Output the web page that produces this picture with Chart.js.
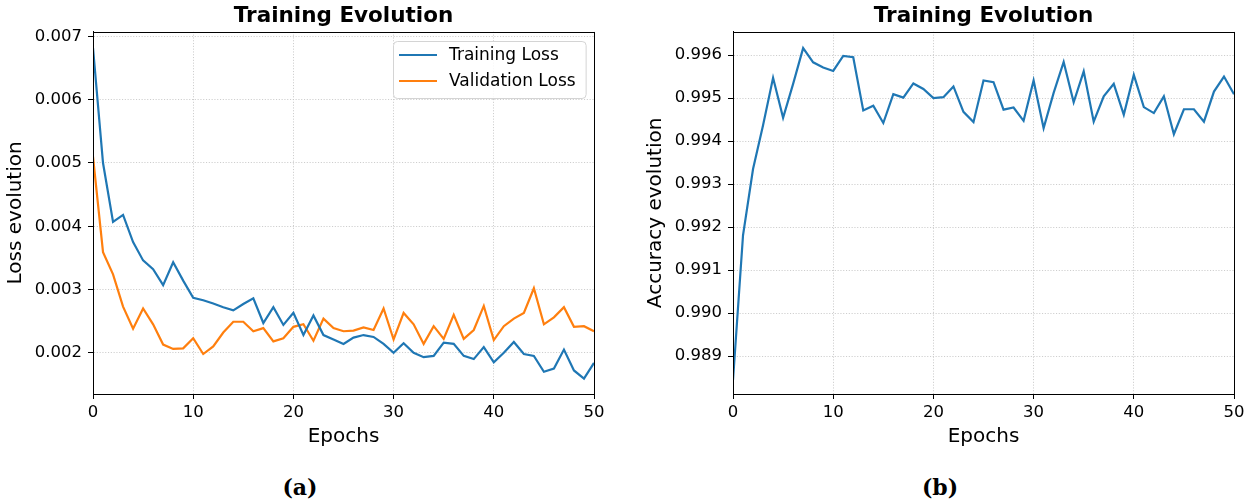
<!DOCTYPE html>
<html>
<head>
<meta charset="utf-8">
<script src="https://cdn.jsdelivr.net/npm/chart.js@4.4.1/dist/chart.umd.min.js"></script>
<style>
    html, body { margin: 0; padding: 0; background: #fff; }
    #wrap { position: relative; width: 1257px; height: 500px; overflow: hidden; }
    canvas { position: absolute; top: 0; }
    #lossChart { left: 0; }
    #accChart { left: 620px; }
    .caption {
        position: absolute; top: 474px; width: 80px; margin-left: -40px;
        text-align: center; line-height: 26px;
        font: bold 22px 'DejaVu Serif', serif; color: #000;
    }
</style>
</head>
<body>
<div id="wrap">
    <canvas id="lossChart" width="620" height="460"></canvas>
    <canvas id="accChart" width="637" height="460"></canvas>
    <div class="caption" style="left:300px">(a)</div>
    <div class="caption" style="left:940px">(b)</div>
</div>
<script>
const epochs = [0, 1, 2, 3, 4, 5, 6, 7, 8, 9, 10, 11, 12, 13, 14, 15, 16, 17, 18, 19, 20,
    21, 22, 23, 24, 25, 26, 27, 28, 29, 30, 31, 32, 33, 34, 35, 36, 37, 38, 39, 40,
    41, 42, 43, 44, 45, 46, 47, 48, 49, 50];

const trainLoss = [0.00682, 0.00500, 0.00407, 0.00418, 0.00375, 0.00346, 0.00332, 0.00307, 0.00343, 0.00314,
    0.00287, 0.00283, 0.00278, 0.00272, 0.00267, 0.00277, 0.00286, 0.00247, 0.00272, 0.00244,
    0.00263, 0.00228, 0.00259, 0.00228, 0.00221, 0.00214, 0.00224, 0.00228, 0.00225, 0.00214,
    0.00200, 0.00215, 0.00200, 0.00193, 0.00195, 0.00216, 0.00214, 0.00195, 0.00190, 0.00209,
    0.00185, 0.00200, 0.00217, 0.00198, 0.00195, 0.00170, 0.00175, 0.00205, 0.00172, 0.00159,
    0.00184];

const valLoss = [0.00510, 0.00359, 0.00324, 0.00273, 0.00238, 0.00270, 0.00245, 0.00213, 0.00206, 0.00207,
    0.00223, 0.00198, 0.00210, 0.00232, 0.00249, 0.00249, 0.00234, 0.00239, 0.00218, 0.00223,
    0.00241, 0.00245, 0.00219, 0.00254, 0.00239, 0.00234, 0.00235, 0.00240, 0.00236, 0.00270,
    0.00221, 0.00263, 0.00245, 0.00214, 0.00242, 0.00222, 0.00260, 0.00222, 0.00236, 0.00274,
    0.00220, 0.00242, 0.00254, 0.00263, 0.00302, 0.00245, 0.00256, 0.00272, 0.00241, 0.00242,
    0.00234];

const accuracy = [0.98844, 0.99181, 0.99335, 0.99437, 0.99547, 0.99454, 0.99533, 0.99616, 0.99583, 0.99571,
    0.99563, 0.99598, 0.99595, 0.99471, 0.99482, 0.99442, 0.99509, 0.99501, 0.99534, 0.99521,
    0.99500, 0.99502, 0.99527, 0.99468, 0.99444, 0.99541, 0.99537, 0.99473, 0.99478, 0.99447,
    0.99541, 0.99430, 0.99512, 0.99584, 0.99490, 0.99562, 0.99445, 0.99504, 0.99533, 0.99461,
    0.99554, 0.99479, 0.99465, 0.99504, 0.99416, 0.99474, 0.99474, 0.99445, 0.99515, 0.99550,
    0.99509];

const epochTicks = [0, 10, 20, 30, 40, 50];
const lossTicks = [0.002, 0.003, 0.004, 0.005, 0.006, 0.007];
const accTicks = [0.989, 0.990, 0.991, 0.992, 0.993, 0.994, 0.995, 0.996];

const FONT = "'DejaVu Sans', sans-serif";
const BLUE = '#1f77b4';
const ORANGE = '#ff7f0e';

const toPoints = (ys) => ys.map((y, i) => ({ x: epochs[i], y }));

// matplotlib-like box around the plot + legend inside the axes (upper right)
const axesBox = {
    id: 'axesBox',
    afterDraw(chart, args, opts) {
        const { ctx, chartArea: a } = chart;
        ctx.save();
        ctx.strokeStyle = '#000';
        ctx.lineWidth = 1;
        ctx.strokeRect(Math.round(a.left) + 0.5, Math.round(a.top) + 0.5,
            Math.round(a.right - a.left), Math.round(a.bottom - a.top));

        if (opts.legend) {
            const sets = chart.data.datasets;
            ctx.font = `17px ${FONT}`;
            const textW = Math.max(...sets.map(d => ctx.measureText(d.label).width));
            const w = 56 + textW + 10;
            const h = 57;
            const x = Math.round(a.right - 8 - w);
            const y = Math.round(a.top + 9);
            ctx.beginPath();
            ctx.roundRect(x + 0.5, y + 0.5, w, h, 4);
            ctx.fillStyle = 'rgba(255,255,255,0.85)';
            ctx.fill();
            ctx.strokeStyle = '#d4d4d4';
            ctx.stroke();
            sets.forEach((d, i) => {
                const cy = y + 14 + i * 26;
                ctx.beginPath();
                ctx.moveTo(x + 6, cy);
                ctx.lineTo(x + 44, cy);
                ctx.strokeStyle = d.borderColor;
                ctx.lineWidth = 2.2;
                ctx.stroke();
                ctx.fillStyle = '#000';
                ctx.textBaseline = 'middle';
                ctx.textAlign = 'left';
                ctx.fillText(d.label, x + 56, cy + 1);
            });
        }
        ctx.restore();
    }
};

function scaleStyle(tickValues, fmt) {
    return {
        type: 'linear',
        grid: {
            color: 'rgba(196,196,196,0.85)',
            lineWidth: 1,
            tickColor: '#000',
            tickLength: 5,
            tickWidth: 1,
            tickBorderDash: [],
        },
        border: { color: '#000', width: 1, dash: [1.1, 1.7] },
        ticks: {
            color: '#000',
            font: { family: FONT, size: 16.5 },
            callback: fmt,
        },
        afterBuildTicks: (scale) => {
            scale.ticks = tickValues.map(v => ({ value: v }));
        },
    };
}

function makeChart(canvasId, datasets, yTitle, yMin, yMax, yTicks, pad, showLegend) {
    const xScale = scaleStyle(epochTicks, (v) => v);
    Object.assign(xScale, {
        min: 0,
        max: 50,
        title: { display: true, text: 'Epochs', color: '#000', font: { family: FONT, size: 20 }, padding: { top: 0, bottom: 11 } },
        afterFit: (scale) => { scale.height = 66; },
    });
    xScale.ticks.padding = 4;
    xScale.ticks.maxRotation = 0;

    const yScale = scaleStyle(yTicks, (v) => v.toFixed(3));
    Object.assign(yScale, {
        min: yMin,
        max: yMax,
        title: { display: true, text: yTitle, color: '#000', font: { family: FONT, size: 20 }, padding: { top: 4, bottom: 0 } },
        afterFit: (scale) => { scale.width = 93; },
    });
    yScale.ticks.padding = 6;

    return new Chart(document.getElementById(canvasId), {
        type: 'line',
        data: { datasets },
        options: {
            responsive: false,
            animation: false,
            devicePixelRatio: 1,
            layout: { padding: pad },
            elements: { point: { radius: 0 }, line: { tension: 0 } },
            plugins: {
                legend: { display: false },
                tooltip: { enabled: false },
                title: {
                    display: true,
                    text: 'Training Evolution',
                    fullSize: false,
                    color: '#000',
                    font: { family: FONT, size: 21.5, weight: 'bold' },
                    padding: { top: 4, bottom: 2 },
                },
                axesBox: { legend: showLegend },
            },
            scales: { x: xScale, y: yScale },
        },
        plugins: [axesBox],
    });
}

makeChart('lossChart', [
    { label: 'Training Loss', data: toPoints(trainLoss), borderColor: BLUE, backgroundColor: BLUE, borderWidth: 2.2 },
    { label: 'Validation Loss', data: toPoints(valLoss), borderColor: ORANGE, backgroundColor: ORANGE, borderWidth: 2.2 },
], 'Loss evolution', 0.001348, 0.007074, lossTicks, { left: 0, right: 26, top: 0, bottom: 0 }, true);

makeChart('accChart', [
    { label: 'Accuracy', data: toPoints(accuracy), borderColor: BLUE, backgroundColor: BLUE, borderWidth: 2.2 },
], 'Accuracy evolution', 0.98812, 0.99654, accTicks, { left: 20, right: 23, top: 0, bottom: 0 }, false);
</script>
</body>
</html>
